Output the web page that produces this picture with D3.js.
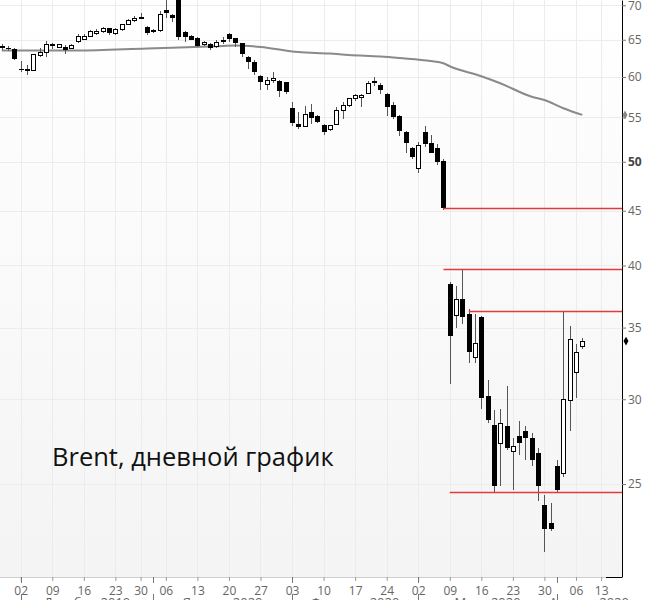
<!DOCTYPE html>
<html><head><meta charset="utf-8">
<script src="https://cdn.jsdelivr.net/npm/d3@7"></script>
<style>body{margin:0;background:#fff;} svg{display:block;}</style>
</head><body><svg id="c" width="650" height="600"></svg>
<script>
// ---- data ----
const dates = ["2019-11-27","2019-11-28","2019-11-29","2019-12-02","2019-12-03","2019-12-04","2019-12-05","2019-12-06",
"2019-12-09","2019-12-10","2019-12-11","2019-12-12","2019-12-13","2019-12-16","2019-12-17","2019-12-18","2019-12-19","2019-12-20",
"2019-12-23","2019-12-24","2019-12-26","2019-12-27","2019-12-30","2019-12-31","2020-01-02","2020-01-03",
"2020-01-06","2020-01-07","2020-01-08","2020-01-09","2020-01-10","2020-01-13","2020-01-14","2020-01-15","2020-01-16","2020-01-17",
"2020-01-20","2020-01-21","2020-01-22","2020-01-23","2020-01-24","2020-01-27","2020-01-28","2020-01-29","2020-01-30","2020-01-31",
"2020-02-03","2020-02-04","2020-02-05","2020-02-06","2020-02-07","2020-02-10","2020-02-11","2020-02-12","2020-02-13","2020-02-14",
"2020-02-17","2020-02-18","2020-02-19","2020-02-20","2020-02-21","2020-02-24","2020-02-25","2020-02-26","2020-02-27","2020-02-28",
"2020-03-02","2020-03-03","2020-03-04","2020-03-05","2020-03-06","2020-03-09","2020-03-10","2020-03-11","2020-03-12","2020-03-13",
"2020-03-16","2020-03-17","2020-03-18","2020-03-19","2020-03-20","2020-03-23","2020-03-24","2020-03-25","2020-03-26","2020-03-27",
"2020-03-30","2020-03-31","2020-04-01","2020-04-02","2020-04-03","2020-04-06","2020-04-07"];
const futureDates = ["2020-04-08","2020-04-09","2020-04-13"];
const open  = [63.9,63.9,63.7,61.0,61.1,60.9,62.9,63.3, 64.2,63.9,64.0,63.8,64.7,65.1,65.4,65.9,66.2,66.6, 65.9,66.4,67.2,67.8,68.1,66.8,66.2,66.3,
69.3,68.5,71.0,66.1,65.5,65.2,64.3,64.4,64.1,64.8, 65.8,65.2,64.5,62.6,62.0,60.1,59.0,59.6,59.5,59.3,
56.1,54.2,53.9,55.6,55.2,54.1,53.6,54.2,55.8,56.4, 57.3,57.4,57.9,59.4,59.0,57.9,56.5,55.2,53.3,51.5,
49.3,53.3,52.1,51.5,50.1,38.4,35.9,37.2,36.0,32.8, 35.8,30.2,28.4,27.3,28.3,26.8,27.7,28.0,27.6,26.7,
23.9,23.0,26.0,25.6,29.9,31.8,33.6];
const high  = [64.4,64.2,63.8,62.1,61.6,63.1,63.8,64.8, 64.5,64.4,64.3,64.4,65.8,65.8,66.4,66.5,66.8,66.7, 66.6,67.3,68.0,68.4,68.8,66.9,66.5,69.2,
70.8,68.7,71.8,66.3,65.7,65.4,64.8,64.6,64.9,65.4, 65.9,65.3,64.6,62.7,62.2,60.2,60.0,60.6,59.6,59.4,
56.8,55.6,56.4,56.6,55.3,54.2,54.1,56.3,56.8,57.4, 57.9,57.8,59.5,60.0,59.2,58.0,56.8,55.3,53.4,51.6,
52.2,54.0,53.0,52.0,50.3,38.6,38.3,39.7,36.4,36.0, 35.9,31.3,29.3,29.4,30.9,27.6,28.6,28.3,27.9,27.0,
24.4,24.0,26.3,36.3,35.1,33.8,34.2];
const low   = [63.6,63.5,62.2,60.7,60.2,60.8,62.6,62.6, 63.7,63.8,63.0,63.7,64.6,64.9,65.4,65.7,66.0,65.6, 65.7,66.3,67.1,67.6,68.0,65.7,65.9,66.1,
68.1,67.6,64.9,64.7,64.9,64.0,64.1,63.6,63.9,64.4, 64.7,64.0,62.6,61.1,60.2,58.4,58.4,59.2,57.5,57.8,
54.0,53.7,53.9,54.2,54.3,53.0,53.4,54.1,54.8,56.3, 57.0,56.2,57.8,58.8,57.8,55.2,54.8,52.9,51.0,50.3,
48.8,51.6,50.9,49.6,45.1,31.0,35.0,35.3,32.4,32.4, 29.4,28.5,24.5,24.9,26.9,24.7,26.6,26.3,26.0,24.1,
21.6,22.6,24.5,25.4,28.0,30.1,33.4];
const close = [64.0,63.8,62.3,60.9,60.8,63.0,63.3,64.3, 64.3,64.3,63.6,64.2,65.4,65.5,66.2,66.2,66.6,66.0, 66.4,67.2,67.8,68.1,68.2,65.9,66.3,68.6,
68.8,68.1,65.4,65.4,65.0,64.1,64.6,63.9,64.6,64.9, 65.1,64.6,63.1,61.9,60.7,59.3,59.6,59.8,58.2,58.1,
54.3,53.9,55.3,54.9,54.5,53.3,54.0,55.8,56.4,57.3, 57.6,57.7,59.2,59.45,58.4,56.3,55.0,53.4,52.1,50.5,
51.8,51.9,51.0,50.0,45.3,34.4,37.2,35.8,33.2,33.8, 30.1,28.7,24.9,28.5,27.0,27.1,27.3,27.6,26.3,24.9,
22.7,22.7,24.7,30.0,34.1,33.2,34.0];
// moving average, read at selected trading days (index into dates)
const maIdx = [0,12,23,34,37,41,47,52,55,60,63,68,70,71,76,79,84,86,89,92];
const maVal = [63.5,63.5,63.8,64.1,64.2,64.0,63.3,63.1,62.9,62.7,62.5,62.1,61.8,61.4,60.1,59.2,57.5,57.1,56.1,55.3];
// horizontal levels
const levelVal  = [45.27, 39.7, 36.3, 24.57];
const levelFrom = ["2020-03-06","2020-03-06","2020-03-12","2020-03-09"];
// axis ticks
const xTickDates = ["2019-12-02","2019-12-09","2019-12-16","2019-12-23","2019-12-30","2020-01-06","2020-01-13","2020-01-20","2020-01-27",
"2020-02-03","2020-02-10","2020-02-17","2020-02-24","2020-03-02","2020-03-09","2020-03-16","2020-03-23","2020-03-30","2020-04-06","2020-04-13"];
const monthStarts = ["2019-12-02","2020-01-02","2020-02-03","2020-03-02","2020-04-01"];
const monthLabels = ["Декабрь 2019","Январь 2020","Февраль 2020","Март 2020","Апрель 2020"];
const yTicks = [25,30,35,40,45,50,55,60,65,70];
const title = "Brent, дневной график";

// ---- layout ----
const W = 650, H = 600, axisX = 622, axisY = 577;
const svg = d3.select("#c");
const allDays = dates.concat(futureDates);
const x = d3.scalePoint().domain(allDays).range([1.8, 601.2]);
const y = d3.scaleLog().domain([20.47, 70.8]).range([axisY, 0]);

const defs = svg.append("defs");
const grad = defs.append("linearGradient").attr("id","bg").attr("x1",0).attr("y1",0).attr("x2",0).attr("y2",1);
grad.append("stop").attr("offset","0%").attr("stop-color","#ffffff");
grad.append("stop").attr("offset","100%").attr("stop-color","#f4f4f4");
defs.append("clipPath").attr("id","plot").append("rect").attr("x",0).attr("y",0).attr("width",axisX).attr("height",axisY);

svg.append("rect").attr("x",0).attr("y",0).attr("width",axisX).attr("height",axisY).attr("fill","url(#bg)");

// grid
const grid = svg.append("g").attr("shape-rendering","crispEdges");
grid.selectAll("line.v").data(xTickDates).join("line")
  .attr("x1",d=>Math.round(x(d))+0.5).attr("x2",d=>Math.round(x(d))+0.5).attr("y1",0).attr("y2",axisY)
  .attr("stroke","#ececec");
grid.selectAll("line.h").data(yTicks).join("line")
  .attr("x1",0).attr("x2",axisX).attr("y1",d=>Math.round(y(d))+0.5).attr("y2",d=>Math.round(y(d))+0.5)
  .attr("stroke","#ececec");

const plot = svg.append("g").attr("clip-path","url(#plot)");

// moving average
const maLine = d3.line().x(d=>x(dates[d[0]])).y(d=>y(d[1])).curve(d3.curveMonotoneX);
plot.append("path").datum(maIdx.map((k,i)=>[k,maVal[i]]))
  .attr("d",maLine).attr("fill","none").attr("stroke","#8a8a8a").attr("stroke-width",2);

// candles
const candles = dates.map((d,i)=>({d,o:open[i],h:high[i],l:low[i],c:close[i]}));
const cg = plot.append("g").attr("shape-rendering","crispEdges");
cg.selectAll("line.wick").data(candles).join("line")
  .attr("x1",d=>Math.round(x(d.d))+0.5).attr("x2",d=>Math.round(x(d.d))+0.5)
  .attr("y1",d=>y(d.h)).attr("y2",d=>y(d.l)).attr("stroke","#555").attr("stroke-width",1);
cg.selectAll("rect.body").data(candles).join("rect")
  .attr("x",d=>Math.round(x(d.d))-2+(d.c>=d.o?0.5:0))
  .attr("width",d=>d.c>=d.o?4:5)
  .attr("y",d=>y(Math.max(d.o,d.c)))
  .attr("height",d=>Math.max(1,Math.abs(y(d.o)-y(d.c))))
  .attr("fill",d=>d.c>=d.o?"#fff":"#000")
  .attr("stroke",d=>d.c>=d.o?"#000":"none").attr("stroke-width",1);

// levels
svg.append("g").selectAll("line").data(levelVal).join("line")
  .attr("x1",(d,i)=>x(levelFrom[i])).attr("x2",axisX)
  .attr("y1",d=>Math.round(y(d))+0.5).attr("y2",d=>Math.round(y(d))+0.5)
  .attr("stroke","#e53a3a").attr("stroke-width",1.3);

// bottom axis line
svg.append("line").attr("x1",0).attr("x2",606).attr("y1",axisY+0.5).attr("y2",axisY+0.5).attr("stroke","#cfcfcf");
svg.append("line").attr("x1",606).attr("x2",axisX).attr("y1",axisY+0.5).attr("y2",axisY+0.5).attr("stroke","#000");

// x axis
const xa = svg.append("g").attr("transform",`translate(0,${axisY})`)
  .call(d3.axisBottom(x).tickValues(xTickDates).tickFormat(d=>d.slice(8)).tickSize(4).tickPadding(3));
xa.select(".domain").remove();
xa.selectAll(".tick line").attr("stroke","#999");
xa.selectAll(".tick text").attr("fill","#666").attr("font-family","Open Sans").attr("font-size",12).attr("dy","0.9em");

// month separators & labels
const mg = svg.append("g").attr("shape-rendering","crispEdges");
monthStarts.forEach((m,i)=>{
  const xm = Math.round(x(m))+0.5;
  mg.append("line").attr("x1",xm).attr("x2",xm).attr("y1",axisY).attr("y2",axisY+6).attr("stroke","#777");
  mg.append("line").attr("x1",xm).attr("x2",xm).attr("y1",594).attr("y2",600).attr("stroke","#777");
  const xe = i<monthStarts.length-1 ? x(monthStarts[i+1]) : x(allDays[allDays.length-1])+20;
  svg.append("text").attr("x",(x(m)+xe)/2).attr("y",607).attr("text-anchor","middle")
    .attr("font-family","Open Sans").attr("font-size",13).attr("fill","#666").text(monthLabels[i]);
});

// right axis
const ya = svg.append("g").attr("transform",`translate(${axisX},0)`)
  .call(d3.axisRight(y).tickValues(yTicks).tickFormat(d3.format("d")).tickSize(4).tickSizeOuter(0).tickPadding(2));
ya.select(".domain").attr("stroke","#000");
ya.selectAll(".tick line").attr("stroke","#777");
ya.selectAll(".tick text").attr("fill","#666").attr("font-family","Open Sans").attr("font-size",12)
  .attr("font-weight",d=>d===50?"bold":"normal").attr("fill",d=>d===50?"#444":"#666");

// last value markers
const diamond = d3.symbol().type(d3.symbolDiamond).size(22);
svg.append("path").attr("d",diamond).attr("transform",`translate(${axisX+3},${y(maVal[maVal.length-1])})`).attr("fill","#888");
svg.append("path").attr("d",diamond).attr("transform",`translate(${axisX+4},${y(close[close.length-1])})`).attr("fill","#000");

// title
svg.append("text").attr("x",52).attr("y",466).attr("font-family","Open Sans").attr("font-size",25.5)
  .attr("fill","#111").text(title);
</script></body></html>
